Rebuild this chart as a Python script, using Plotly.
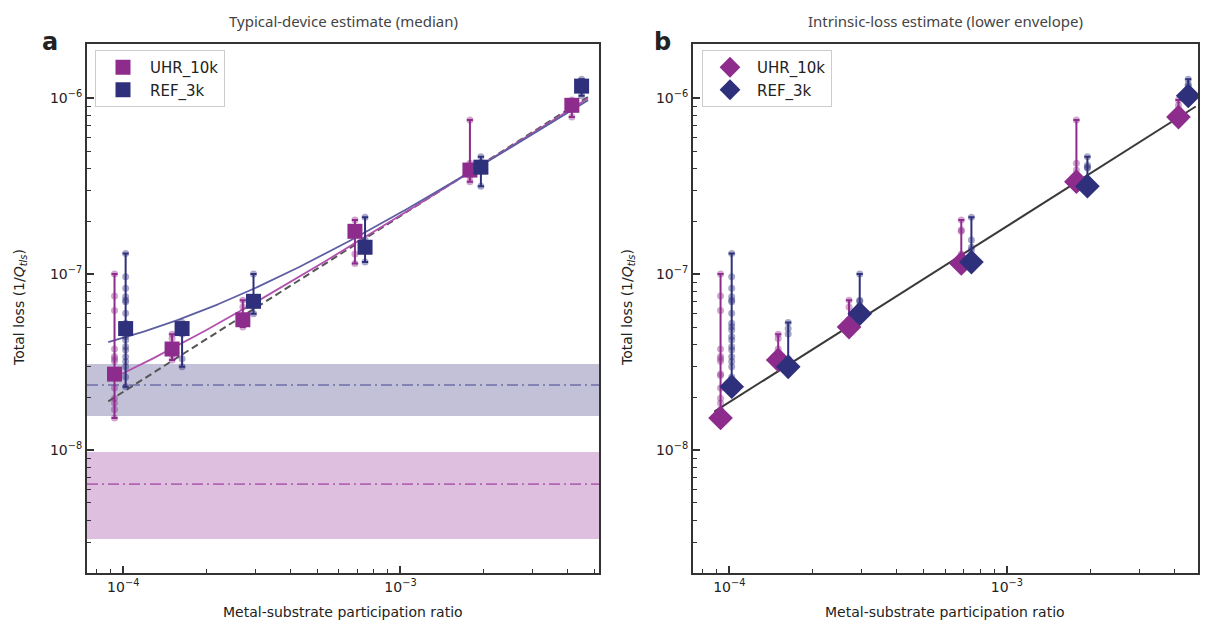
import numpy as np
import plotly.graph_objects as go

# ---------------- data ----------------
UHR_x = [9.3e-5, 1.5e-4, 2.7e-4, 6.85e-4, 1.78e-3, 4.15e-3]
REF_x = [1.02e-4, 1.63e-4, 2.95e-4, 7.45e-4, 1.95e-3, 4.5e-3]

UHR_devices = [
    [1.0e-7, 7.5e-8, 6.2e-8, 3.75e-8, 3.4e-8, 3.3e-8, 3.2e-8, 2.7e-8, 2.65e-8, 2.25e-8, 1.97e-8, 1.85e-8, 1.7e-8, 1.52e-8],
    [4.55e-8, 4.3e-8, 3.75e-8, 3.5e-8, 3.25e-8],
    [7.1e-8, 6.5e-8, 5.5e-8, 5.2e-8, 5.0e-8],
    [2.03e-7, 1.78e-7, 1.75e-7, 1.3e-7, 1.15e-7],
    [7.5e-7, 4.27e-7, 3.9e-7, 3.6e-7, 3.35e-7],
    [9.75e-7, 9.1e-7, 8.6e-7, 7.8e-7],
]
REF_devices = [
    [1.31e-7, 9.65e-8, 8.3e-8, 7.43e-8, 7.1e-8, 6.96e-8, 5.98e-8, 5.25e-8, 5.02e-8, 4.81e-8,
     4.41e-8, 4.22e-8, 3.86e-8, 3.7e-8, 3.39e-8, 3.18e-8, 2.97e-8, 2.6e-8, 2.29e-8],
    [5.3e-8, 4.9e-8, 4.56e-8, 3.3e-8, 2.97e-8],
    [1.0e-7, 7.1e-8, 7.0e-8, 6.6e-8, 5.95e-8],
    [2.1e-7, 1.56e-7, 1.42e-7, 1.37e-7, 1.17e-7],
    [4.64e-7, 4.15e-7, 4.05e-7, 4.0e-7, 3.16e-7],
    [1.28e-6, 1.2e-6, 1.17e-6, 1.03e-6],
]
UHR_median = [2.7e-8, 3.75e-8, 5.5e-8, 1.75e-7, 3.9e-7, 9.1e-7]
REF_median = [4.9e-8, 4.9e-8, 7.0e-8, 1.42e-7, 4.05e-7, 1.17e-6]

# fit parameters: loss = slope * p + offset
UHR_slope, UHR_offset = 2.09e-4, 6.4e-9
REF_slope, REF_offset = 2.0e-4, 2.34e-8
PURE_slope = 2.14e-4
ENV_slope = 1.87e-4
FIT_prange = [8.83e-5, 4.75e-3]
ENV_prange = [8.83e-5, 4.79e-3]

# offset uncertainty bands
UHR_band = [3.12e-9, 9.75e-9]
REF_band = [1.56e-8, 3.08e-8]

UHR_name, REF_name = "UHR_10k", "REF_3k"

# ---------------- style ----------------
C_UHR = "#8e2c8d"
C_REF = "#2f307c"
C_UHR_FIT = "#b150ae"
C_REF_FIT = "#5e5ea2"
C_UHR_BAND = "rgba(178,102,178,0.42)"
C_REF_BAND = "rgba(110,108,160,0.42)"
C_UHR_DD = "#b366b3"
C_REF_DD = "#6d6daa"
AXC = "#333333"
FONT = "DejaVu Sans"

W, H = 1208, 629
L_dom = [87 / W, 599 / W]
R_dom = [693 / W, 1198 / W]
Y_dom = [1 - 573 / H, 1 - 44 / H]
XR_L = [np.log10(7.4e-5), np.log10(5.2e-3)]
XR_R = [np.log10(7.4e-5), np.log10(4.88e-3)]
YR = [np.log10(2.0e-9), np.log10(2.03e-6)]

fig = go.Figure()


def minmax(devs):
    return [min(d) for d in devs], [max(d) for d in devs]


UHR_min, UHR_max = minmax(UHR_devices)
REF_min, REF_max = minmax(REF_devices)

# ---------- panel a ----------
xa, ya = "x", "y"
xspan_L = [10 ** XR_L[0], 10 ** XR_L[1]]
for band, col in [(UHR_band, C_UHR_BAND), (REF_band, C_REF_BAND)]:
    fig.add_trace(go.Scatter(x=[xspan_L[0], xspan_L[1], xspan_L[1], xspan_L[0]],
                             y=[band[0], band[0], band[1], band[1]],
                             fill="toself", fillcolor=col, line=dict(width=0),
                             mode="lines", showlegend=False, hoverinfo="skip",
                             xaxis=xa, yaxis=ya))
for off, col in [(UHR_offset, C_UHR_DD), (REF_offset, C_REF_DD)]:
    fig.add_trace(go.Scatter(x=xspan_L, y=[off, off], mode="lines",
                             line=dict(color=col, width=1.6, dash="11px,4px,2px,4px"),
                             showlegend=False, hoverinfo="skip", xaxis=xa, yaxis=ya))

pgrid = np.logspace(np.log10(FIT_prange[0]), np.log10(FIT_prange[1]), 200)
fig.add_trace(go.Scatter(x=pgrid, y=PURE_slope * pgrid, mode="lines",
                         line=dict(color="#555555", width=2, dash="7px,4px"),
                         showlegend=False, xaxis=xa, yaxis=ya))
fig.add_trace(go.Scatter(x=pgrid, y=UHR_slope * pgrid + UHR_offset, mode="lines",
                         line=dict(color=C_UHR_FIT, width=1.8),
                         showlegend=False, xaxis=xa, yaxis=ya))
fig.add_trace(go.Scatter(x=pgrid, y=REF_slope * pgrid + REF_offset, mode="lines",
                         line=dict(color=C_REF_FIT, width=1.8),
                         showlegend=False, xaxis=xa, yaxis=ya))


def device_trace(xs, devs, col, xa_, ya_):
    xx, yy = [], []
    for x, d in zip(xs, devs):
        xx += [x] * len(d)
        yy += d
    return go.Scatter(x=xx, y=yy, mode="markers",
                      marker=dict(color=col, size=7, opacity=0.42, line=dict(width=0)),
                      showlegend=False, hoverinfo="skip", xaxis=xa_, yaxis=ya_)


for xs, devs, med, mn, mx, col, name in [
        (UHR_x, UHR_devices, UHR_median, UHR_min, UHR_max, C_UHR, UHR_name),
        (REF_x, REF_devices, REF_median, REF_min, REF_max, C_REF, REF_name)]:
    fig.add_trace(device_trace(xs, devs, col, xa, ya))
    fig.add_trace(go.Scatter(
        x=xs, y=med, mode="markers", name=name,
        marker=dict(symbol="square", size=15, color=col, line=dict(width=0)),
        error_y=dict(type="data", symmetric=False,
                     array=[b - m for b, m in zip(mx, med)],
                     arrayminus=[m - a for a, m in zip(mn, med)],
                     color=col, thickness=2, width=3),
        legend="legend", xaxis=xa, yaxis=ya))

# ---------- panel b ----------
xb, yb = "x2", "y2"
pgrid2 = np.logspace(np.log10(ENV_prange[0]), np.log10(ENV_prange[1]), 50)
fig.add_trace(go.Scatter(x=pgrid2, y=ENV_slope * pgrid2, mode="lines",
                         line=dict(color="#3a3a3a", width=2),
                         showlegend=False, xaxis=xb, yaxis=yb))
for xs, devs, mn, mx, col, name in [
        (UHR_x, UHR_devices, UHR_min, UHR_max, C_UHR, UHR_name),
        (REF_x, REF_devices, REF_min, REF_max, C_REF, REF_name)]:
    fig.add_trace(device_trace(xs, devs, col, xb, yb))
    fig.add_trace(go.Scatter(
        x=xs, y=mn, mode="markers", name=name,
        marker=dict(symbol="diamond", size=19, color=col, line=dict(width=0)),
        error_y=dict(type="data", symmetric=False,
                     array=[b - a for a, b in zip(mn, mx)],
                     arrayminus=[0] * len(mn),
                     color=col, thickness=2, width=3),
        legend="legend2", xaxis=xb, yaxis=yb))

# ---------------- axes ----------------
x_major = [1e-4, 1e-3]
x_major_txt = ["10<sup>−4</sup>", "10<sup>−3</sup>"]
x_minor = [8e-5, 9e-5] + [k * 1e-4 for k in range(2, 10)] + [k * 1e-3 for k in range(2, 6)]
y_major = [1e-8, 1e-7, 1e-6]
y_major_txt = ["10<sup>−8</sup>", "10<sup>−7</sup>", "10<sup>−6</sup>"]
y_minor = [k * 1e-9 for k in range(2, 10)] + [k * 1e-8 for k in range(2, 10)] + [k * 1e-7 for k in range(2, 10)]


def xaxis_cfg(dom, rng, anchor):
    return dict(type="log", domain=dom, range=rng, anchor=anchor,
                showline=True, linewidth=2, linecolor=AXC, mirror=True,
                showgrid=False, zeroline=False,
                tickmode="array", tickvals=x_major, ticktext=x_major_txt,
                ticks="inside", ticklen=7, tickwidth=1.6, tickcolor=AXC,
                tickfont=dict(family=FONT, size=14, color="#222"),
                minor=dict(tickmode="array", tickvals=x_minor, ticks="inside",
                           ticklen=4, tickwidth=1, tickcolor=AXC, showgrid=False))


def yaxis_cfg(anchor):
    return dict(type="log", domain=Y_dom, range=YR, anchor=anchor,
                showline=True, linewidth=2, linecolor=AXC, mirror=True,
                showgrid=False, zeroline=False,
                tickmode="array", tickvals=y_major, ticktext=y_major_txt,
                ticks="inside", ticklen=7, tickwidth=1.6, tickcolor=AXC,
                tickfont=dict(family=FONT, size=14, color="#222"),
                minor=dict(tickmode="array", tickvals=y_minor, ticks="inside",
                           ticklen=4, tickwidth=1, tickcolor=AXC, showgrid=False))


fig.update_layout(
    width=W, height=H, margin=dict(l=0, r=0, t=0, b=0),
    paper_bgcolor="white", plot_bgcolor="white",
    font=dict(family=FONT, size=14, color="#222"),
    xaxis=xaxis_cfg(L_dom, XR_L, "y"),
    yaxis=yaxis_cfg("x"),
    xaxis2=xaxis_cfg(R_dom, XR_R, "y2"),
    yaxis2=yaxis_cfg("x2"),
    legend=dict(x=95 / W, y=1 - 50 / H, xanchor="left", yanchor="top",
                bgcolor="white", bordercolor="#cccccc", borderwidth=1,
                font=dict(family=FONT, size=15, color="#222"), itemwidth=44),
    legend2=dict(x=702 / W, y=1 - 50 / H, xanchor="left", yanchor="top",
                 bgcolor="white", bordercolor="#cccccc", borderwidth=1,
                 font=dict(family=FONT, size=15, color="#222"), itemwidth=44),
)

ann = []
for cx, t in [(343, "Typical-device estimate (median)"),
              (945, "Intrinsic-loss estimate (lower envelope)")]:
    ann.append(dict(x=cx / W, y=1 - 21 / H, xref="paper", yref="paper",
                    text=t, showarrow=False, xanchor="center", yanchor="middle",
                    font=dict(family="Noto Sans", size=15, color="#444")))
for cx in [343, 945]:
    ann.append(dict(x=cx / W, y=1 - 612 / H, xref="paper", yref="paper",
                    text="Metal-substrate participation ratio", showarrow=False,
                    xanchor="center", yanchor="middle",
                    font=dict(family=FONT, size=14, color="#222")))
for cx in [20, 628]:
    ann.append(dict(x=cx / W, y=1 - 308 / H, xref="paper", yref="paper",
                    text="Total loss (1/<i>Q</i><sub><i>tls</i></sub>)", showarrow=False,
                    textangle=-90, xanchor="center", yanchor="middle",
                    font=dict(family=FONT, size=14, color="#222")))
for cx, t in [(50, "a"), (662, "b")]:
    ann.append(dict(x=cx / W, y=1 - 42 / H, xref="paper", yref="paper",
                    text="<b>" + t + "</b>", showarrow=False,
                    xanchor="center", yanchor="middle",
                    font=dict(family=FONT, size=24, color="#222")))
fig.update_layout(annotations=ann)

fig.write_html("out.html")
